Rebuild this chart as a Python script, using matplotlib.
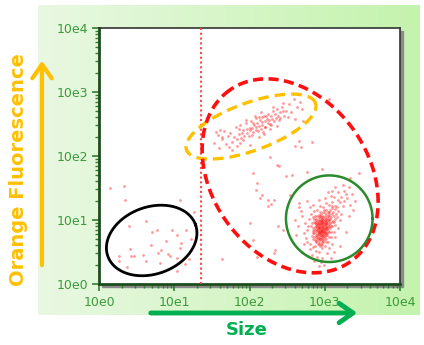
import matplotlib
matplotlib.use('Agg')
import matplotlib.pyplot as plt
import numpy as np
from matplotlib.colors import LinearSegmentedColormap
from matplotlib.patches import Rectangle, FancyArrowPatch

# events as (log10 size, log10 orange fluorescence)
debris_pts = [
    (0.15, 1.50), (0.33, 1.53), (0.35, 1.32), (1.08, 1.32), (1.26, 1.13),
    (0.63, 0.99), (0.40, 0.90), (0.97, 0.85), (0.70, 0.82), (0.77, 0.85),
    (1.16, 0.84), (1.03, 0.77), (1.22, 0.70), (0.89, 0.67), (1.09, 0.64),
    (0.69, 0.61), (1.08, 0.57), (0.41, 0.55), (0.83, 0.53), (0.79, 0.48),
    (0.92, 0.47), (0.58, 0.46), (0.43, 0.44), (0.46, 0.44), (0.95, 0.44),
    (1.04, 0.41), (0.26, 0.43), (0.27, 0.36), (0.63, 0.36), (0.81, 0.33),
    (1.19, 0.39), (1.14, 0.31), (0.37, 0.27), (1.04, 0.21),
]
scatter_pts = [
    (2.37, 1.86), (2.39, 1.84), (2.04, 1.73), (2.49, 1.69), (2.56, 1.70),
    (2.10, 1.58), (2.09, 1.47), (2.16, 1.39), (2.14, 1.34), (2.25, 1.32),
    (2.32, 1.32), (2.28, 1.25), (2.25, 1.22), (2.00, 0.95), (2.38, 0.90),
    (2.45, 0.84), (2.54, 1.39), (2.05, 0.69), (2.33, 0.49), (2.10, 0.42),
    (1.63, 0.39), (2.27, 1.99), (2.76, 1.75), (2.96, 1.79), (2.66, 1.26),
    (2.34, 0.53), (3.33, 1.65), (3.46, 1.73), (3.06, 2.89), (2.83, 2.22),
]
orange_pts = [
    (1.53, 2.21), (1.58, 2.33), (1.60, 2.12), (1.64, 2.27), (1.66, 2.39),
    (1.69, 2.18), (1.71, 2.31), (1.74, 2.36), (1.77, 2.22), (1.79, 2.30),
    (1.82, 2.45), (1.83, 2.26), (1.86, 2.34), (1.87, 2.49), (1.89, 2.28),
    (1.92, 2.41), (1.93, 2.32), (1.96, 2.51), (1.97, 2.36), (2.01, 2.43),
    (2.02, 2.55), (2.03, 2.33), (2.06, 2.48), (2.08, 2.59), (2.09, 2.40),
    (2.12, 2.47), (2.13, 2.61), (2.15, 2.42), (2.17, 2.53), (2.19, 2.63),
    (2.21, 2.46), (2.23, 2.58), (2.25, 2.66), (2.27, 2.50), (2.29, 2.62),
    (2.31, 2.71), (2.33, 2.55), (2.35, 2.60), (2.37, 2.73), (2.39, 2.57),
    (2.41, 2.68), (2.43, 2.77), (2.46, 2.63), (2.49, 2.70), (2.53, 2.82),
    (2.55, 2.68), (2.59, 2.89), (2.63, 2.77), (2.67, 2.85), (2.70, 2.73),
    (1.88, 2.20), (1.91, 2.25), (1.99, 2.31), (2.05, 2.38), (2.11, 2.39),
    (2.18, 2.37), (2.21, 2.45), (2.27, 2.42), (1.84, 2.16), (1.61, 2.40),
    (1.95, 2.57), (2.07, 2.63), (2.15, 2.69), (2.31, 2.77), (2.45, 2.83),
    (1.73, 2.14), (2.51, 2.61), (2.61, 2.58), (2.71, 2.55), (2.36, 2.47),
    (2.01, 2.17), (1.77, 2.09), (2.13, 2.29), (2.19, 2.34), (1.55, 2.37),
    (1.64, 2.29), (2.60, 2.15), (2.66, 2.24), (2.69, 2.14), (2.16, 2.49),
    (2.10, 2.52), (2.20, 2.55), (2.24, 2.51), (2.03, 2.44), (1.97, 2.42),
    (2.26, 2.57), (2.34, 2.66), (2.08, 2.45), (2.22, 2.62), (2.30, 2.58),
    (1.90, 2.36), (2.00, 2.40), (2.14, 2.56), (2.28, 2.49), (2.38, 2.63),
    (1.86, 2.42), (2.16, 2.61), (2.40, 2.60), (2.44, 2.70), (2.05, 2.52),
]
green_pts = [
    (2.85, 0.80), (2.88, 0.86), (2.90, 0.92), (2.92, 0.78), (2.94, 0.88),
    (2.96, 0.95), (2.98, 0.84), (3.00, 1.00), (3.02, 0.92), (3.04, 1.06),
    (2.87, 0.95), (2.89, 1.02), (2.91, 0.72), (2.93, 0.98), (2.95, 0.76),
    (2.97, 1.05), (2.99, 0.90), (3.01, 0.80), (3.03, 0.98), (3.05, 1.12),
    (2.84, 0.88), (2.86, 0.74), (2.88, 1.00), (2.90, 0.84), (2.92, 1.08),
    (2.94, 0.70), (2.96, 0.86), (2.98, 1.12), (3.00, 0.74), (3.02, 1.16),
    (2.83, 0.96), (2.85, 1.04), (2.87, 0.68), (2.89, 0.90), (2.91, 0.98),
    (2.93, 0.82), (2.95, 1.10), (2.97, 0.78), (2.99, 1.02), (3.01, 1.08),
    (3.03, 0.86), (3.05, 0.94), (3.07, 1.02), (3.09, 1.10), (3.06, 0.82),
    (3.08, 0.90), (3.10, 1.18), (3.11, 0.98), (2.96, 0.66), (2.92, 0.62),
    (2.98, 0.72), (3.00, 0.88), (2.94, 0.94), (2.90, 0.80), (2.86, 0.84),
    (2.97, 0.98), (3.02, 0.84), (2.99, 0.78), (2.93, 1.04), (3.04, 1.00),
    (2.91, 0.88), (2.95, 0.83), (2.97, 0.91), (3.01, 0.95), (2.89, 0.76),
    (2.93, 0.72), (2.99, 0.68), (3.03, 0.76), (2.95, 1.00), (3.07, 0.96),
    (2.88, 0.66), (2.94, 0.80), (3.00, 0.82), (2.96, 0.74), (2.92, 0.90),
    (2.98, 0.96), (3.06, 1.06), (3.12, 1.06), (2.90, 0.70), (3.04, 0.90),
    (2.75, 0.72), (2.78, 0.90), (2.80, 0.62), (2.82, 1.10), (2.79, 1.02),
    (2.76, 0.84), (2.81, 0.55), (2.84, 0.58), (2.88, 0.52), (2.92, 0.50),
    (2.96, 0.56), (3.00, 0.60), (3.04, 0.66), (3.08, 0.74), (3.12, 0.82),
    (3.14, 0.92), (3.16, 1.04), (3.18, 1.14), (3.14, 1.22), (3.10, 1.28),
    (3.06, 1.24), (3.02, 1.26), (2.98, 1.20), (2.94, 1.22), (2.90, 1.16),
    (2.86, 1.14), (3.20, 1.28), (3.22, 1.36), (3.18, 1.32), (3.12, 1.36),
    (3.08, 1.38), (3.16, 1.20), (3.24, 1.22), (3.20, 1.00), (3.18, 0.88),
    (3.14, 0.74), (2.74, 0.96), (2.72, 0.80), (2.77, 0.66), (2.83, 0.46),
    (2.90, 0.42), (2.97, 0.40), (3.03, 0.48), (2.87, 0.60), (2.94, 0.60),
    (3.06, 0.56), (3.10, 0.62), (2.80, 1.20), (2.84, 1.24), (3.00, 1.34),
    (3.26, 1.30), (3.28, 1.40), (3.25, 1.46), (3.18, 1.44), (3.10, 1.46),
    (3.30, 1.34), (3.22, 1.10), (2.70, 1.06), (2.73, 0.62), (2.95, 0.34),
    (2.65, 0.90), (2.68, 1.14), (2.62, 0.76), (2.70, 0.50), (2.78, 0.44),
    (2.86, 0.36), (2.99, 0.30), (3.08, 0.40), (3.20, 0.60), (3.28, 0.82),
    (3.32, 1.06), (3.34, 1.24), (3.36, 1.40), (3.32, 1.52), (3.24, 1.54),
    (3.14, 1.52), (3.04, 1.44), (2.92, 1.32), (2.76, 1.30), (2.66, 1.20),
    (3.40, 1.30), (2.60, 1.00), (3.12, 0.50), (2.92, 0.28), (3.38, 1.16),
]
green_core_pts = [
    (2.93, 0.87), (2.96, 0.93), (2.99, 0.86), (3.01, 0.97), (2.95, 0.79),
    (2.97, 0.83), (2.92, 0.95), (3.03, 1.03), (2.98, 1.07), (2.94, 0.91),
    (2.89, 0.83), (2.91, 0.77), (3.00, 0.93), (2.96, 1.01), (3.02, 0.89),
    (2.87, 0.89), (2.94, 0.73), (2.99, 0.81), (3.05, 0.99), (2.90, 1.06),
    (2.97, 0.69), (2.93, 0.65), (3.01, 0.71), (3.04, 0.83), (2.86, 0.79),
    (2.88, 0.93), (3.06, 1.09), (2.95, 1.05), (3.00, 1.11), (2.92, 1.01),
    (2.98, 0.77), (2.91, 0.85), (3.03, 0.95), (2.96, 0.89), (2.94, 0.85),
    (2.99, 0.97), (2.85, 0.71), (2.90, 0.75), (3.07, 0.87), (3.02, 1.01),
    (2.97, 0.87), (2.93, 0.79), (3.00, 0.84), (2.95, 0.97), (2.89, 0.97),
    (3.04, 1.13), (3.08, 1.05), (2.98, 0.91), (2.92, 0.69), (2.95, 0.63),
    (3.01, 0.89), (2.96, 0.81), (2.91, 0.93), (2.99, 0.75), (3.03, 0.79),
    (2.94, 1.07), (2.88, 0.73), (2.86, 0.97), (3.05, 0.91), (3.09, 0.97),
    (2.97, 1.01), (2.93, 0.93), (3.00, 1.05), (2.95, 0.71), (2.90, 0.89),
    (3.02, 0.77), (2.98, 0.65), (3.06, 1.01), (2.92, 0.83), (2.84, 0.83),
    (3.11, 1.13), (3.13, 1.01), (3.07, 1.15), (2.99, 1.15), (2.94, 1.13),
    (2.87, 1.07), (2.83, 0.75), (2.91, 0.63), (3.01, 0.65), (3.05, 0.73),
    (2.96, 0.99), (2.93, 0.89), (2.98, 0.88), (3.00, 0.79), (2.95, 0.85),
    (2.97, 0.75), (3.02, 0.94), (2.94, 0.99), (2.90, 0.95), (3.04, 0.87),
    (2.89, 0.67), (2.97, 0.61), (3.08, 0.81), (3.10, 0.91), (3.12, 0.97),
    (2.86, 1.02), (2.82, 0.91), (3.15, 1.09), (3.14, 1.17), (3.09, 1.22),
    (2.96, 0.83), (2.99, 0.93), (2.93, 0.81), (3.01, 0.87), (2.95, 0.93),
    (2.97, 0.97), (2.92, 0.87), (3.00, 0.99), (2.98, 0.82), (2.94, 0.77),
]
size_gate = 22.6

tick_vals = [1, 10, 100, 1000, 10000]
tick_labels = ['10e0', '10e1', '10e2', '10e3', '10e4']

W, H = 424, 345
fig = plt.figure(figsize=(W / 100, H / 100), dpi=100)

# light green backdrop
bg = fig.add_axes([38 / W, 30 / H, 381 / W, 310 / H], zorder=-2)
cmap = LinearSegmentedColormap.from_list('bg', ['#e9f8e2', '#c4f3ad'])
bg.imshow(np.linspace(0, 1, 256).reshape(1, -1), aspect='auto', cmap=cmap)
bg.axis('off')

fig.add_artist(Rectangle(((99 + 3) / W, (61 - 3) / H), 301 / W, 256 / H,
                         transform=fig.transFigure, color='#8a8a8a', zorder=-1))
ax = fig.add_axes([99 / W, 61 / H, 301 / W, 256 / H])
ax.set_xscale('log')
ax.set_yscale('log')
ax.set_xlim(1, 1e4)
ax.set_ylim(1, 1e4)
ax.set_facecolor('white')

for pts in (debris_pts, scatter_pts, orange_pts, green_pts, green_core_pts):
    arr = np.array(pts)
    ax.scatter(10 ** arr[:, 0], 10 ** arr[:, 1], s=4, color='#ff2020',
               alpha=0.45, linewidths=0, zorder=2)

ax.axvline(size_gate, color='#ff4848', ls=(0, (1, 1.3)), lw=1.5, zorder=3)

# gates: centre in decades, semi-axes in pixels, tilt in degrees
sx, sy = 301 / 4, 256 / 4
t = np.linspace(0, 2 * np.pi, 300)


def gate(cx, cy, a, b, ang):
    th = np.radians(ang)
    u = a * np.cos(t) * np.cos(th) - b * np.sin(t) * np.sin(th)
    v = a * np.cos(t) * np.sin(th) + b * np.sin(t) * np.cos(th)
    return 10 ** (cx + u / sx), 10 ** (cy + v / sy)


ax.plot(*gate(0.70, 0.68, 46.6, 33.5, 20), color='black', lw=2, zorder=4)
ax.plot(*gate(2.02, 2.46, 68.6, 23.9, 20), color='#ffc000', lw=2.4,
        dashes=(3.2, 1.8), zorder=4)
ax.plot(*gate(2.54, 1.69, 104.9, 78.4, 125), color='#ff1010', lw=2.6,
        dashes=(2.8, 1.5), zorder=4)
ax.plot(*gate(3.06, 1.02, 43.3, 43.3, 0), color='#2b8a2b', lw=1.8, zorder=4)

ax.set_xticks(tick_vals, tick_labels)
ax.set_yticks(tick_vals, tick_labels)
ax.tick_params(which='both', direction='out', color='#2f7f2f', labelcolor='#3a9a3a',
               labelsize=9)
ax.tick_params(which='major', length=5, width=1.2)
ax.tick_params(which='minor', length=3, width=1)
ax.tick_params(axis='x', pad=4)
ax.tick_params(axis='y', pad=3)
for side in ('left', 'bottom'):
    ax.spines[side].set_color('#1e4d1e')
    ax.spines[side].set_linewidth(2)
for side in ('top', 'right'):
    ax.spines[side].set_color('#333333')
    ax.spines[side].set_linewidth(1.2)

# axis arrows and titles
fig.add_artist(FancyArrowPatch((42 / W, (H - 268) / H), (42 / W, (H - 58) / H),
                               transform=fig.transFigure, color='#ffc000', lw=3,
                               arrowstyle='->, head_length=0.5, head_width=0.35',
                               mutation_scale=20))
fig.add_artist(FancyArrowPatch((148 / W, (H - 313) / H), (360 / W, (H - 313) / H),
                               transform=fig.transFigure, color='#00b050', lw=3.5,
                               arrowstyle='->, head_length=0.5, head_width=0.35',
                               mutation_scale=20))
fig.text(19 / W, (H - 170) / H, 'Orange Fluorescence', rotation=90, color='#ffc000',
         fontsize=14, fontweight='bold', ha='center', va='center')
fig.text(247 / W, (H - 330) / H, 'Size', color='#00b050', fontsize=13,
         fontweight='bold', ha='center', va='center')

fig.savefig('out.png', dpi=100)
